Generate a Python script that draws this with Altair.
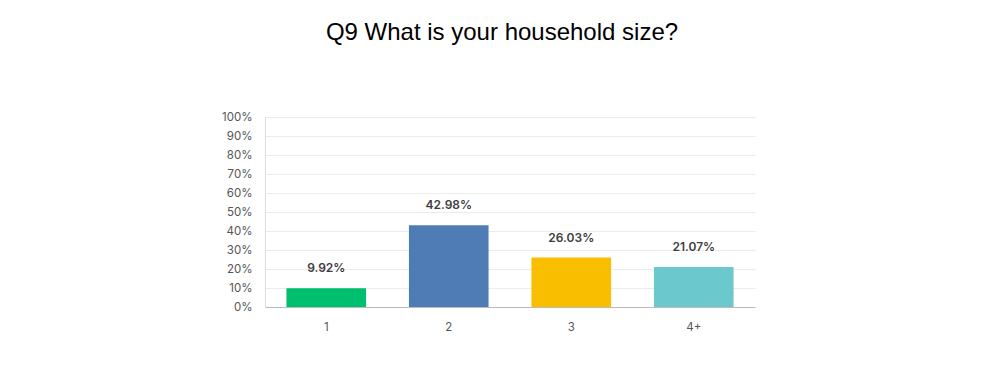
import altair as alt
import pandas as pd

categories = ["1", "2", "3", "4+"]
values = [9.92, 42.98, 26.03, 21.07]
colors = ["#00BF6F", "#507CB6", "#F9BE00", "#6BC8CD"]
labels = ["9.92%", "42.98%", "26.03%", "21.07%"]
y_ticks = [0, 0.1, 0.2, 0.3, 0.4, 0.5, 0.6, 0.7, 0.8, 0.9, 1.0]

df = pd.DataFrame({"cat": categories, "val": [v / 100 for v in values], "label": labels})

x = alt.X("cat:N", sort=categories, title=None,
          scale=alt.Scale(paddingInner=0.35, paddingOuter=0.175),
          axis=alt.Axis(labelAngle=0, labelPadding=14, ticks=False, domainColor="#bbbbbb",
                        labelColor="#555555", labelFontSize=11.5, labelFont="Inter"))
y = alt.Y("val:Q", title=None,
          scale=alt.Scale(domain=[0, 1]),
          axis=alt.Axis(format=".0%", values=y_ticks, ticks=False, labelOverlap=False,
                        domainColor="#dddddd", gridColor="#ebebeb", labelPadding=13,
                        labelColor="#555555", labelFontSize=11.5, labelFont="Inter"))

base = alt.Chart(df).encode(x=x, y=y)

bars = base.mark_bar().encode(
    color=alt.Color("cat:N", sort=categories,
                    scale=alt.Scale(domain=categories, range=colors), legend=None),
)
text = base.mark_text(dy=-20, baseline="middle", fontSize=12, fontWeight=600,
                      color="#3d3d3d", font="Inter").encode(text="label:N")

chart = (bars + text).properties(
    width=490, height=190,
    title=alt.TitleParams("Q9 What is your household size?", fontSize=24, fontWeight="normal",
                          font="Liberation Sans", color="#000000", offset=66, dx=-8),
).configure(
    autosize="none", padding={"left": 257, "top": 109, "right": 237, "bottom": 53}
).configure_view(stroke=None)

chart.save("out.html", embed_options={"renderer": "svg", "actions": False})
